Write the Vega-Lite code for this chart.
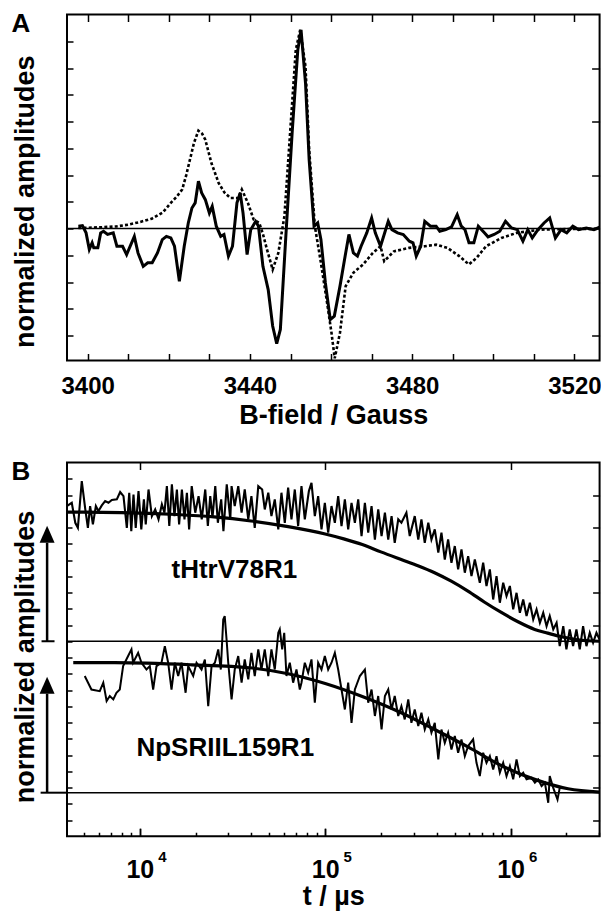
{
"$schema": "https://vega.github.io/schema/vega-lite/v6.json",
"background": "white",
"padding": {"left": 10, "top": 9.5, "right": 2, "bottom": 0},
"spacing": 28,
"config": {
  "view": {"stroke": "black", "strokeWidth": 2},
  "font": "Liberation Sans",
  "axis": {"grid": false, "domain": false, "labelFont": "Liberation Sans", "labelFontWeight": "bold", "labelColor": "black", "titleFont": "Liberation Sans", "titleFontWeight": "bold", "titleColor": "black", "tickColor": "black", "tickWidth": 1.5, "minExtent": 0}
},
"datasets": {
  "eprSim": [
    {"B":3397.7,"amp":0.02},{"B":3403.4,"amp":0.05},{"B":3407,"amp":0.08},{"B":3410.1,"amp":0.15},{"B":3413,"amp":0.25},{"B":3415.8,"amp":0.37},{"B":3418.5,"amp":0.6},{"B":3420.5,"amp":0.96},{"B":3422,"amp":1.2},{"B":3423.3,"amp":1.46},{"B":3424.3,"amp":2.0},{"B":3425.2,"amp":2.57},{"B":3426.2,"amp":3.2},{"B":3427.3,"amp":3.66},{"B":3428.2,"amp":3.55},{"B":3429.0,"amp":3.32},{"B":3430.5,"amp":2.45},{"B":3432.3,"amp":1.7},{"B":3433.7,"amp":1.35},{"B":3435.2,"amp":1.14},{"B":3437.1,"amp":1.14},{"B":3438.0,"amp":1.46},{"B":3439.5,"amp":0.96},{"B":3440.9,"amp":0.34},{"B":3442.3,"amp":0.21},{"B":3443.2,"amp":-0.2},{"B":3444.2,"amp":-0.78},{"B":3445.6,"amp":-1.53},{"B":3447.0,"amp":-0.91},{"B":3448.5,"amp":0.46},{"B":3449.9,"amp":3.57},{"B":3451.3,"amp":6.68},{"B":3452.4,"amp":7.43},{"B":3453.7,"amp":6.06},{"B":3454.6,"amp":2.95},{"B":3456.0,"amp":0.09},{"B":3457.5,"amp":-1.28},{"B":3458.9,"amp":-2.65},{"B":3460.1,"amp":-3.89},{"B":3460.9,"amp":-4.85},{"B":3462.2,"amp":-3.89},{"B":3463.6,"amp":-2.15},{"B":3465.5,"amp":-1.65},{"B":3467.9,"amp":-1.34},{"B":3470.3,"amp":-0.91},{"B":3472.2,"amp":-0.66},{"B":3473.1,"amp":-1.22},{"B":3475.5,"amp":-0.85},{"B":3479.3,"amp":-0.72},{"B":3483.1,"amp":-0.66},{"B":3485.9,"amp":-0.6},{"B":3488.7,"amp":-0.72},{"B":3491.6,"amp":-1.03},{"B":3494.0,"amp":-1.34},{"B":3495.9,"amp":-1.09},{"B":3498.2,"amp":-0.66},{"B":3502.0,"amp":-0.35},{"B":3505.8,"amp":-0.16},{"B":3511.5,"amp":-0.04},{"B":3521.0,"amp":-0.01},{"B":3526.2,"amp":-0.01}
  ],
  "eprExp": [
    {"B":3397.7,"amp":0.09},{"B":3398.7,"amp":0.11},{"B":3399.6,"amp":-0.16},{"B":3400.4,"amp":-0.78},{"B":3401.1,"amp":-0.53},{"B":3401.5,"amp":-0.72},{"B":3402.5,"amp":-0.72},{"B":3403.2,"amp":-0.16},{"B":3403.9,"amp":-0.1},{"B":3404.9,"amp":-0.22},{"B":3406.3,"amp":-0.16},{"B":3407.2,"amp":-0.66},{"B":3408.6,"amp":-0.66},{"B":3409.6,"amp":-0.97},{"B":3411.5,"amp":-0.29},{"B":3412.4,"amp":-0.91},{"B":3413.7,"amp":-1.41},{"B":3414.8,"amp":-1.28},{"B":3415.9,"amp":-1.28},{"B":3417.2,"amp":-0.91},{"B":3418.4,"amp":-0.41},{"B":3419.4,"amp":-0.29},{"B":3420.5,"amp":-0.35},{"B":3421.4,"amp":-0.66},{"B":3422.6,"amp":-1.97},{"B":3423.8,"amp":-0.66},{"B":3424.8,"amp":0.21},{"B":3425.7,"amp":0.77},{"B":3426.5,"amp":0.96},{"B":3427.3,"amp":1.77},{"B":3428.1,"amp":1.33},{"B":3429.0,"amp":1.08},{"B":3430.0,"amp":0.58},{"B":3430.7,"amp":0.83},{"B":3431.7,"amp":0.09},{"B":3432.8,"amp":-0.29},{"B":3433.6,"amp":-0.22},{"B":3434.7,"amp":-1.03},{"B":3435.7,"amp":-0.66},{"B":3436.8,"amp":0.96},{"B":3437.6,"amp":1.33},{"B":3438.3,"amp":0.58},{"B":3439.3,"amp":-0.97},{"B":3440.2,"amp":-0.04},{"B":3441.4,"amp":0.27},{"B":3442.1,"amp":0.09},{"B":3443.2,"amp":-1.41},{"B":3444.5,"amp":-2.28},{"B":3445.6,"amp":-3.64},{"B":3446.6,"amp":-4.3},{"B":3447.5,"amp":-3.77},{"B":3448.9,"amp":-0.16},{"B":3450.4,"amp":3.57},{"B":3451.8,"amp":6.68},{"B":3452.6,"amp":7.43},{"B":3453.7,"amp":5.44},{"B":3454.6,"amp":2.57},{"B":3455.8,"amp":0.09},{"B":3456.7,"amp":0.21},{"B":3457.5,"amp":-0.41},{"B":3458.6,"amp":-2.03},{"B":3459.8,"amp":-3.4},{"B":3460.8,"amp":-3.27},{"B":3462.2,"amp":-2.15},{"B":3463.6,"amp":-0.91},{"B":3464.4,"amp":-0.22},{"B":3465.5,"amp":-0.91},{"B":3466.5,"amp":-1.03},{"B":3467.4,"amp":-0.66},{"B":3468.8,"amp":-0.16},{"B":3470.0,"amp":0.4},{"B":3470.9,"amp":-0.16},{"B":3472.2,"amp":-0.66},{"B":3474.1,"amp":0.27},{"B":3475.0,"amp":-0.04},{"B":3476.4,"amp":-0.16},{"B":3477.8,"amp":-0.22},{"B":3479.3,"amp":-0.47},{"B":3480.2,"amp":-0.53},{"B":3481.0,"amp":-1.03},{"B":3482.1,"amp":-0.66},{"B":3483.1,"amp":0.27},{"B":3484.5,"amp":0.09},{"B":3485.9,"amp":0.09},{"B":3486.8,"amp":-0.1},{"B":3488.3,"amp":-0.04},{"B":3489.7,"amp":0.06},{"B":3491.1,"amp":0.52},{"B":3492.1,"amp":0.09},{"B":3493.0,"amp":-0.04},{"B":3494.0,"amp":-0.53},{"B":3495.2,"amp":-0.53},{"B":3496.3,"amp":0.09},{"B":3497.8,"amp":-0.16},{"B":3498.7,"amp":-0.31},{"B":3500.2,"amp":-0.22},{"B":3501.6,"amp":-0.1},{"B":3503.0,"amp":0.27},{"B":3504.5,"amp":0.02},{"B":3505.9,"amp":-0.04},{"B":3507.3,"amp":-0.47},{"B":3508.5,"amp":-0.04},{"B":3509.6,"amp":-0.35},{"B":3511.0,"amp":-0.04},{"B":3512.5,"amp":0.21},{"B":3513.9,"amp":0.4},{"B":3515.3,"amp":-0.35},{"B":3516.7,"amp":-0.04},{"B":3518.1,"amp":-0.16},{"B":3519.6,"amp":0.09},{"B":3521.0,"amp":-0.04},{"B":3522.9,"amp":0.02},{"B":3524.8,"amp":-0.04},{"B":3526.2,"amp":0.05}
  ],
  "zeroA": [{"level": 0}],
  "fitTop": [
    {"log10_t":3.607,"amp":19.95},{"log10_t":3.9,"amp":19.92},{"log10_t":4.2,"amp":19.8},{"log10_t":4.4,"amp":19.65},{"log10_t":4.6,"amp":19.4},{"log10_t":4.8,"amp":19.05},{"log10_t":5.0,"amp":18.6},{"log10_t":5.1,"amp":18.3},{"log10_t":5.2,"amp":17.95},{"log10_t":5.3,"amp":17.5},{"log10_t":5.41,"amp":17.03},{"log10_t":5.5,"amp":16.65},{"log10_t":5.59,"amp":16.22},{"log10_t":5.68,"amp":15.7},{"log10_t":5.77,"amp":15.09},{"log10_t":5.86,"amp":14.4},{"log10_t":5.95,"amp":13.77},{"log10_t":6.04,"amp":13.2},{"log10_t":6.13,"amp":12.73},{"log10_t":6.2,"amp":12.5},{"log10_t":6.26,"amp":12.32},{"log10_t":6.35,"amp":12.11},{"log10_t":6.48,"amp":12.0}
  ],
  "fitBottom": [
    {"log10_t":3.641,"amp":10.68},{"log10_t":3.865,"amp":10.68},{"log10_t":4.28,"amp":10.55},{"log10_t":4.59,"amp":10.37},{"log10_t":4.8,"amp":10.0},{"log10_t":5.0,"amp":9.4},{"log10_t":5.2,"amp":8.6},{"log10_t":5.41,"amp":7.6},{"log10_t":5.59,"amp":6.57},{"log10_t":5.77,"amp":5.5},{"log10_t":5.95,"amp":4.35},{"log10_t":6.13,"amp":3.5},{"log10_t":6.31,"amp":2.92},{"log10_t":6.48,"amp":2.72}
  ],
  "dataTop": [
    {"log10_t":3.606,"amp":20.32},{"log10_t":3.633,"amp":20.52},{"log10_t":3.652,"amp":19.29},{"log10_t":3.666,"amp":18.98},{"log10_t":3.687,"amp":21.86},{"log10_t":3.706,"amp":20.11},{"log10_t":3.72,"amp":18.98},{"log10_t":3.732,"amp":20.32},{"log10_t":3.747,"amp":19.19},{"log10_t":3.763,"amp":20.32},{"log10_t":3.777,"amp":20.01},{"log10_t":3.795,"amp":20.36},{"log10_t":3.813,"amp":20.63},{"log10_t":3.831,"amp":20.52},{"log10_t":3.849,"amp":20.69},{"log10_t":3.876,"amp":20.73},{"log10_t":3.894,"amp":21.18},{"log10_t":3.912,"amp":20.93},{"log10_t":3.93,"amp":18.98},{"log10_t":3.943,"amp":21.14},{"log10_t":3.954,"amp":18.78},{"log10_t":3.966,"amp":21.03},{"log10_t":3.978,"amp":18.98},{"log10_t":3.993,"amp":21.24},{"log10_t":4.008,"amp":18.88},{"log10_t":4.022,"amp":20.73},{"log10_t":4.032,"amp":19.19},{"log10_t":4.047,"amp":21.34},{"log10_t":4.065,"amp":19.7},{"log10_t":4.083,"amp":20.11},{"log10_t":4.101,"amp":19.5},{"log10_t":4.119,"amp":20.42},{"log10_t":4.133,"amp":19.91},{"log10_t":4.146,"amp":21.55},{"log10_t":4.159,"amp":19.09},{"log10_t":4.173,"amp":21.65},{"log10_t":4.187,"amp":19.7},{"log10_t":4.2,"amp":21.34},{"log10_t":4.212,"amp":19.19},{"log10_t":4.227,"amp":21.34},{"log10_t":4.241,"amp":19.5},{"log10_t":4.254,"amp":21.14},{"log10_t":4.266,"amp":18.88},{"log10_t":4.28,"amp":21.55},{"log10_t":4.299,"amp":19.91},{"log10_t":4.317,"amp":20.93},{"log10_t":4.334,"amp":19.5},{"log10_t":4.353,"amp":21.34},{"log10_t":4.367,"amp":19.09},{"log10_t":4.38,"amp":20.93},{"log10_t":4.392,"amp":19.6},{"log10_t":4.407,"amp":21.55},{"log10_t":4.421,"amp":19.29},{"log10_t":4.439,"amp":20.73},{"log10_t":4.451,"amp":18.78},{"log10_t":4.469,"amp":21.65},{"log10_t":4.488,"amp":19.5},
    {"log10_t":4.495,"amp":21.55},{"log10_t":4.512,"amp":20.32},{"log10_t":4.531,"amp":21.55},{"log10_t":4.549,"amp":19.91},{"log10_t":4.566,"amp":21.34},{"log10_t":4.585,"amp":19.5},{"log10_t":4.602,"amp":20.93},{"log10_t":4.62,"amp":18.98},{"log10_t":4.639,"amp":21.55},{"log10_t":4.66,"amp":21.34},{"log10_t":4.674,"amp":20.11},{"log10_t":4.693,"amp":21.14},{"log10_t":4.71,"amp":19.7},{"log10_t":4.728,"amp":20.73},{"log10_t":4.747,"amp":18.88},{"log10_t":4.764,"amp":21.14},{"log10_t":4.782,"amp":19.29},{"log10_t":4.8,"amp":21.45},{"log10_t":4.818,"amp":19.5},{"log10_t":4.836,"amp":21.34},{"log10_t":4.854,"amp":19.09},{"log10_t":4.872,"amp":21.55},{"log10_t":4.89,"amp":19.5},{"log10_t":4.912,"amp":21.24},{"log10_t":4.926,"amp":21.75},{"log10_t":4.944,"amp":19.7},{"log10_t":4.962,"amp":20.93},{"log10_t":4.98,"amp":18.88},{"log10_t":4.998,"amp":20.52},{"log10_t":5.016,"amp":18.68},{"log10_t":5.034,"amp":20.32},{"log10_t":5.052,"amp":19.29},{"log10_t":5.07,"amp":20.93},{"log10_t":5.088,"amp":19.09},{"log10_t":5.106,"amp":20.73},{"log10_t":5.124,"amp":18.88},{"log10_t":5.142,"amp":20.52},{"log10_t":5.16,"amp":19.29},{"log10_t":5.178,"amp":20.73},{"log10_t":5.196,"amp":18.47},{"log10_t":5.214,"amp":20.52},{"log10_t":5.232,"amp":18.68},{"log10_t":5.25,"amp":20.32},{"log10_t":5.268,"amp":18.26},{"log10_t":5.286,"amp":20.11},{"log10_t":5.304,"amp":18.47},{"log10_t":5.322,"amp":19.91},{"log10_t":5.34,"amp":18.26},{"log10_t":5.358,"amp":19.7},{"log10_t":5.375,"amp":18.06},{"log10_t":5.394,"amp":19.5},
    {"log10_t":5.411,"amp":19.29},{"log10_t":5.438,"amp":19.91},{"log10_t":5.456,"amp":18.47},{"log10_t":5.483,"amp":19.7},{"log10_t":5.502,"amp":18.26},{"log10_t":5.519,"amp":19.5},{"log10_t":5.537,"amp":18.06},{"log10_t":5.556,"amp":19.29},{"log10_t":5.573,"amp":18.26},{"log10_t":5.591,"amp":18.88},{"log10_t":5.61,"amp":17.45},{"log10_t":5.627,"amp":18.68},{"log10_t":5.645,"amp":17.03},{"log10_t":5.663,"amp":18.26},{"log10_t":5.681,"amp":16.83},{"log10_t":5.699,"amp":17.86},{"log10_t":5.717,"amp":16.42},{"log10_t":5.735,"amp":17.65},{"log10_t":5.753,"amp":16.22},{"log10_t":5.771,"amp":17.24},{"log10_t":5.789,"amp":16.01},{"log10_t":5.807,"amp":17.03},{"log10_t":5.834,"amp":15.6},{"log10_t":5.852,"amp":16.83},{"log10_t":5.87,"amp":15.4},{"log10_t":5.888,"amp":16.42},{"log10_t":5.906,"amp":14.57},{"log10_t":5.924,"amp":16.01},{"log10_t":5.942,"amp":14.37},{"log10_t":5.96,"amp":15.6},{"log10_t":5.978,"amp":14.78},{"log10_t":5.996,"amp":15.4},{"log10_t":6.014,"amp":13.96},{"log10_t":6.032,"amp":14.98},{"log10_t":6.05,"amp":13.75},{"log10_t":6.068,"amp":14.57},{"log10_t":6.086,"amp":13.55},{"log10_t":6.104,"amp":14.37},{"log10_t":6.122,"amp":13.34},{"log10_t":6.14,"amp":13.96},{"log10_t":6.158,"amp":13.14},{"log10_t":6.176,"amp":13.75},{"log10_t":6.194,"amp":12.93},{"log10_t":6.211,"amp":13.55},{"log10_t":6.23,"amp":12.73},{"log10_t":6.248,"amp":13.14},{"log10_t":6.265,"amp":11.7},{"log10_t":6.284,"amp":12.93},{"log10_t":6.301,"amp":11.5},{"log10_t":6.319,"amp":12.73},{"log10_t":6.337,"amp":11.7},{"log10_t":6.355,"amp":12.73},{"log10_t":6.373,"amp":11.5},{"log10_t":6.391,"amp":12.93},{"log10_t":6.409,"amp":11.7},{"log10_t":6.427,"amp":12.52},{"log10_t":6.445,"amp":11.91},{"log10_t":6.463,"amp":12.52},{"log10_t":6.48,"amp":12.11}
  ],
  "dataBottom": [
    {"log10_t":3.703,"amp":9.86},{"log10_t":3.739,"amp":9.03},{"log10_t":3.784,"amp":8.93},{"log10_t":3.803,"amp":9.45},{"log10_t":3.821,"amp":8.32},{"log10_t":3.838,"amp":8.63},{"log10_t":3.857,"amp":8.42},{"log10_t":3.874,"amp":8.83},{"log10_t":3.892,"amp":9.03},{"log10_t":3.91,"amp":10.47},{"log10_t":3.937,"amp":11.09},{"log10_t":3.955,"amp":11.5},{"log10_t":3.964,"amp":10.68},{"log10_t":3.991,"amp":11.29},{"log10_t":4.009,"amp":10.68},{"log10_t":4.036,"amp":10.26},{"log10_t":4.054,"amp":10.47},{"log10_t":4.072,"amp":9.03},{"log10_t":4.09,"amp":10.47},{"log10_t":4.117,"amp":10.68},{"log10_t":4.135,"amp":11.7},{"log10_t":4.153,"amp":10.68},{"log10_t":4.171,"amp":9.03},{"log10_t":4.189,"amp":10.68},{"log10_t":4.207,"amp":9.86},{"log10_t":4.225,"amp":10.68},{"log10_t":4.247,"amp":8.83},{"log10_t":4.261,"amp":10.47},{"log10_t":4.288,"amp":9.86},{"log10_t":4.306,"amp":10.68},{"log10_t":4.333,"amp":10.26},{"log10_t":4.351,"amp":10.88},{"log10_t":4.369,"amp":8.01},{"log10_t":4.387,"amp":10.47},{"log10_t":4.405,"amp":10.68},{"log10_t":4.423,"amp":11.5},{"log10_t":4.437,"amp":10.26},{"log10_t":4.45,"amp":13.34},{"log10_t":4.458,"amp":13.55},{"log10_t":4.468,"amp":12.11},{"log10_t":4.477,"amp":10.68},{"log10_t":4.495,"amp":8.42},{"log10_t":4.512,"amp":10.26},{"log10_t":4.531,"amp":11.09},{"log10_t":4.549,"amp":9.45},{"log10_t":4.566,"amp":10.88},{"log10_t":4.585,"amp":9.65},{"log10_t":4.602,"amp":11.29},{"log10_t":4.62,"amp":9.86},{"log10_t":4.639,"amp":11.5},{"log10_t":4.656,"amp":10.26},{"log10_t":4.674,"amp":11.5},{"log10_t":4.693,"amp":9.86},{"log10_t":4.71,"amp":11.5},{"log10_t":4.728,"amp":10.26},{"log10_t":4.747,"amp":12.52},{"log10_t":4.755,"amp":12.73},{"log10_t":4.768,"amp":11.5},{"log10_t":4.779,"amp":12.52},{"log10_t":4.791,"amp":9.86},{"log10_t":4.809,"amp":10.68},{"log10_t":4.827,"amp":9.45},{"log10_t":4.845,"amp":10.26},{"log10_t":4.863,"amp":9.03},
    {"log10_t":4.872,"amp":9.45},{"log10_t":4.89,"amp":10.68},{"log10_t":4.908,"amp":10.06},{"log10_t":4.926,"amp":10.88},{"log10_t":4.944,"amp":8.22},{"log10_t":4.962,"amp":10.68},{"log10_t":4.98,"amp":10.26},{"log10_t":4.998,"amp":11.09},{"log10_t":5.016,"amp":10.26},{"log10_t":5.034,"amp":10.68},{"log10_t":5.052,"amp":11.29},{"log10_t":5.07,"amp":10.26},{"log10_t":5.088,"amp":9.03},{"log10_t":5.106,"amp":7.8},{"log10_t":5.124,"amp":9.45},{"log10_t":5.142,"amp":6.98},{"log10_t":5.16,"amp":9.03},{"log10_t":5.187,"amp":9.86},{"log10_t":5.214,"amp":10.26},{"log10_t":5.232,"amp":8.22},{"log10_t":5.25,"amp":9.03},{"log10_t":5.268,"amp":7.4},{"log10_t":5.286,"amp":8.63},{"log10_t":5.304,"amp":6.57},{"log10_t":5.322,"amp":8.63},{"log10_t":5.34,"amp":9.03},{"log10_t":5.358,"amp":7.8},{"log10_t":5.375,"amp":8.63},{"log10_t":5.394,"amp":7.4},{"log10_t":5.411,"amp":8.01},{"log10_t":5.429,"amp":7.19},{"log10_t":5.448,"amp":8.42},{"log10_t":5.465,"amp":6.98},{"log10_t":5.483,"amp":7.8},{"log10_t":5.502,"amp":6.78},{"log10_t":5.519,"amp":7.6},{"log10_t":5.537,"amp":6.57},{"log10_t":5.556,"amp":7.19},{"log10_t":5.573,"amp":6.37},{"log10_t":5.591,"amp":6.98},{"log10_t":5.61,"amp":4.73},{"log10_t":5.627,"amp":6.57},{"log10_t":5.645,"amp":5.75},{"log10_t":5.663,"amp":6.37},{"log10_t":5.681,"amp":5.34},{"log10_t":5.699,"amp":6.17},{"log10_t":5.717,"amp":5.14},{"log10_t":5.735,"amp":5.96},{"log10_t":5.753,"amp":4.93},{"log10_t":5.771,"amp":5.55},{"log10_t":5.798,"amp":5.96},{"log10_t":5.816,"amp":4.52},{"log10_t":5.834,"amp":3.7},{"log10_t":5.852,"amp":5.14},{"log10_t":5.87,"amp":4.52},{"log10_t":5.888,"amp":4.93},{"log10_t":5.906,"amp":4.11},{"log10_t":5.924,"amp":4.93},{"log10_t":5.942,"amp":3.91},{"log10_t":5.96,"amp":4.52},{"log10_t":5.978,"amp":3.7},{"log10_t":5.996,"amp":4.32},{"log10_t":6.014,"amp":3.5},{"log10_t":6.032,"amp":4.73},{"log10_t":6.05,"amp":3.7},{"log10_t":6.068,"amp":3.91},{"log10_t":6.086,"amp":3.5},{"log10_t":6.113,"amp":3.6},{"log10_t":6.131,"amp":3.29},{"log10_t":6.149,"amp":3.5},{"log10_t":6.167,"amp":3.09},{"log10_t":6.185,"amp":3.29},{"log10_t":6.203,"amp":2.06},{"log10_t":6.211,"amp":3.7},{"log10_t":6.23,"amp":2.98},{"log10_t":6.253,"amp":2.26},{"log10_t":6.265,"amp":2.98}
  ],
  "baselines": [{"level": 12}, {"level": 2.68}],
  "arrows": [{"log10_t": 3.5, "from": 12, "to": 18.06}, {"log10_t": 3.5, "from": 2.68, "to": 8.77}],
  "heads": [{"log10_t": 3.5, "amp": 18.06}, {"log10_t": 3.5, "amp": 8.77}],
  "bars": [{"x1": 3.47, "x2": 3.54, "level": 12}, {"x1": 3.465, "x2": 3.6073, "level": 2.68}],
  "names": [{"name": "tHtrV78R1", "log10_t": 4.171, "amp": 15.91}, {"name": "NpSRIIL159R1", "log10_t": 3.982, "amp": 4.95}]
},
"vconcat": [
  {
    "width": 532.6,
    "height": 346,
    "title": {"text": "A", "anchor": "start", "frame": "group", "orient": "top", "offset": -21, "baseline": "top", "align": "left", "dx": -55.4, "dy": 2, "fontSize": 26, "fontWeight": "bold", "font": "Liberation Sans", "color": "black"},
    "resolve": {"axis": {"x": "independent", "y": "independent"}},
    "layer": [
      {
        "data": {"name": "zeroA"},
        "mark": {"type": "rule", "color": "black", "strokeWidth": 1.5},
        "encoding": {"y": {"field": "level", "type": "quantitative", "axis": null}}
      },
      {
        "data": {"name": "eprSim"},
        "mark": {"type": "line", "color": "black", "strokeWidth": 2.6, "strokeDash": [3, 2.2], "clip": true},
        "encoding": {
          "x": {"field": "B", "type": "quantitative", "scale": {"domain": [3394.9, 3526.2], "nice": false, "zero": false},
                "axis": {"orient": "bottom", "values": [3400,3410,3420,3430,3440,3450,3460,3470,3480,3490,3500,3510,3520], "format": "d", "labelExpr": "datum.value % 40 === 0 ? datum.label : ''", "tickSize": -7, "labelPadding": 21, "labelFontSize": 24, "title": "B-field / Gauss", "titleFontSize": 27, "titlePadding": 4}},
          "y": {"field": "amp", "type": "quantitative", "scale": {"domain": [-4.93, 8], "nice": false, "zero": false},
                "axis": {"orient": "left", "values": [-4,-3,-2,-1,0,1,2,3,4,5,6,7], "tickSize": -6, "labels": false, "title": "normalized amplitudes", "titleFontSize": 27, "titlePadding": 26.5, "titleY": 186.7}}
        }
      },
      {
        "data": {"name": "eprExp"},
        "mark": {"type": "line", "color": "black", "strokeWidth": 3, "clip": true},
        "encoding": {
          "x": {"field": "B", "type": "quantitative", "axis": {"orient": "top", "values": [3400,3410,3420,3430,3440,3450,3460,3470,3480,3490,3500,3510,3520], "tickSize": -7, "labels": false, "title": null}},
          "y": {"field": "amp", "type": "quantitative", "axis": {"orient": "right", "values": [-4,-2,0,2,4,6], "tickSize": -8, "labels": false, "title": null}}
        }
      }
    ]
  },
  {
    "width": 532.6,
    "height": 373.75,
    "title": {"text": "B", "anchor": "start", "frame": "group", "orient": "top", "offset": -21, "baseline": "top", "align": "left", "dx": -55.4, "dy": 2, "fontSize": 26, "fontWeight": "bold", "font": "Liberation Sans", "color": "black"},
    "resolve": {"axis": {"x": "independent", "y": "independent"}},
    "layer": [
      {
        "data": {"name": "baselines"},
        "mark": {"type": "rule", "color": "black", "strokeWidth": 1.5},
        "encoding": {"y": {"field": "level", "type": "quantitative", "scale": {"domain": [0, 23], "nice": false, "zero": false}, "axis": null}}
      },
      {
        "data": {"name": "dataTop"},
        "mark": {"type": "line", "color": "black", "strokeWidth": 2.1, "clip": true},
        "encoding": {
          "x": {"field": "log10_t", "type": "quantitative", "scale": {"domain": [3.6073, 6.48], "nice": false, "zero": false},
                "axis": {"orient": "top", "values": [4, 5, 6], "tickSize": -7, "labels": false, "title": null}},
          "y": {"field": "amp", "type": "quantitative", "scale": {"domain": [0, 23], "nice": false, "zero": false},
                "axis": {"orient": "right", "values": [1,3,5,7,9,11,13,15,17,19,21], "tickSize": -7, "labels": false, "title": null}}
        }
      },
      {
        "data": {"name": "dataBottom"},
        "mark": {"type": "line", "color": "black", "strokeWidth": 2.0, "clip": true},
        "encoding": {
          "x": {"field": "log10_t", "type": "quantitative",
                "axis": {"orient": "bottom", "values": [3.699,3.778,3.845,3.903,3.954,4.301,4.477,4.602,4.699,4.778,4.845,4.903,4.954,5.301,5.477,5.602,5.699,5.778,5.845,5.903,5.954,6.301,6.477], "tickSize": -4, "labels": false, "title": null}},
          "y": {"field": "amp", "type": "quantitative", "axis": null}
        }
      },
      {
        "data": {"name": "fitTop"},
        "mark": {"type": "line", "color": "black", "strokeWidth": 3.2, "interpolate": "monotone", "clip": true},
        "encoding": {
          "x": {"field": "log10_t", "type": "quantitative",
                "axis": {"orient": "bottom", "values": [4, 5, 6], "labelExpr": "'10'", "tickSize": -8, "labelPadding": 29, "labelFontSize": 25, "title": "t / µs", "titleFontSize": 27, "titlePadding": 1}},
          "y": {"field": "amp", "type": "quantitative",
                "axis": {"orient": "left", "values": [1,2,3,4,5,6,7,8,9,10,11,12,13,14,15,16,17,18,19,20,21,22], "tickSize": -5, "labels": false, "title": "normalized amplitudes", "titleFontSize": 27, "titlePadding": 26.5, "titleY": 194}}
        }
      },
      {
        "data": {"name": "fitBottom"},
        "mark": {"type": "line", "color": "black", "strokeWidth": 3.2, "interpolate": "monotone", "clip": true},
        "encoding": {
          "x": {"field": "log10_t", "type": "quantitative",
                "axis": {"orient": "bottom", "values": [4, 5, 6], "format": "d", "tickSize": -8, "labelPadding": 21.5, "labelOffset": 22, "labelFontSize": 15, "title": null}},
          "y": {"field": "amp", "type": "quantitative", "axis": null}
        }
      },
      {
        "data": {"name": "arrows"},
        "mark": {"type": "rule", "color": "black", "strokeWidth": 2.5},
        "encoding": {
          "x": {"field": "log10_t", "type": "quantitative", "axis": null},
          "y": {"field": "from", "type": "quantitative", "axis": null},
          "y2": {"field": "to"}
        }
      },
      {
        "data": {"name": "bars"},
        "mark": {"type": "rule", "color": "black", "strokeWidth": 2},
        "encoding": {
          "x": {"field": "x1", "type": "quantitative", "axis": null},
          "x2": {"field": "x2"},
          "y": {"field": "level", "type": "quantitative", "axis": null}
        }
      },
      {
        "data": {"name": "heads"},
        "mark": {"type": "point", "shape": "M0,-1L0.44,0L-0.44,0Z", "filled": true, "color": "black", "opacity": 1, "size": 1156},
        "encoding": {
          "x": {"field": "log10_t", "type": "quantitative", "axis": null},
          "y": {"field": "amp", "type": "quantitative", "axis": null}
        }
      },
      {
        "data": {"name": "names"},
        "mark": {"type": "text", "align": "left", "baseline": "alphabetic", "font": "Liberation Sans", "fontWeight": "bold", "fontSize": 26, "color": "black"},
        "encoding": {
          "x": {"field": "log10_t", "type": "quantitative", "axis": null},
          "y": {"field": "amp", "type": "quantitative", "axis": null},
          "text": {"field": "name"}
        }
      }
    ]
  }
]
}
